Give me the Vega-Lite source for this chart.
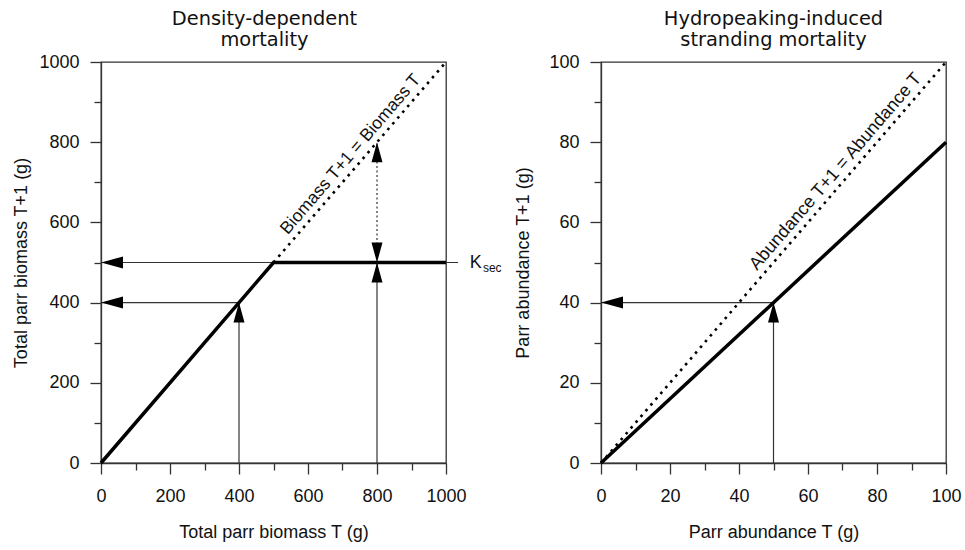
{
  "$schema": "https://vega.github.io/schema/vega-lite/v6.json",
  "background": "white",
  "padding": {"left": 12, "top": 7, "right": 5, "bottom": 5},
  "spacing": 11,
  "config": {
    "view": {"stroke": "#333", "strokeWidth": 1.3},
    "axis": {
      "labelFont": "Liberation Sans", "labelFontSize": 18, "labelColor": "#111",
      "titleFont": "Liberation Sans", "titleFontSize": 18, "titleFontWeight": "normal", "titleColor": "#111",
      "domainColor": "#333", "tickColor": "#333", "domainWidth": 1.3, "tickWidth": 1.3,
      "grid": false, "labelFlush": false, "labelOverlap": false, "format": "d"
    },
    "title": {"font": "DejaVu Sans", "fontSize": 19.4, "fontWeight": "normal", "color": "#111", "lineHeight": 21, "offset": 3}
  },
  "datasets": {
    "thinL": [
      {"x": 0, "y": 500, "x2": 1035, "y2": 500},
      {"x": 0, "y": 400, "x2": 400, "y2": 400},
      {"x": 400, "y": 0, "x2": 400, "y2": 400},
      {"x": 800, "y": 0, "x2": 800, "y2": 500}
    ],
    "dotV": [{"x": 800, "y": 500, "x2": 800, "y2": 800}],
    "diagL": [{"x": 500, "y": 500}, {"x": 1000, "y": 1000}],
    "curveL": [{"x": 0, "y": 0}, {"x": 500, "y": 500}, {"x": 1000, "y": 500}],
    "arrowsL": [
      {"x": 0, "y": 500, "dir": "left"},
      {"x": 0, "y": 400, "dir": "left"},
      {"x": 400, "y": 400, "dir": "up"},
      {"x": 800, "y": 500, "dir": "up"},
      {"x": 800, "y": 500, "dir": "down"},
      {"x": 800, "y": 800, "dir": "up"}
    ],
    "labelL": [{"x": 750, "y": 750, "text": "Biomass T+1 = Biomass T"}],
    "kL": [{"x": 1069, "y": 500, "text": "K"}],
    "secL": [{"x": 1107, "y": 500, "text": "sec"}],
    "thinR": [
      {"x": 0, "y": 40, "x2": 50, "y2": 40},
      {"x": 50, "y": 0, "x2": 50, "y2": 40}
    ],
    "diagR": [{"x": 0, "y": 0}, {"x": 100, "y": 100}],
    "curveR": [{"x": 0, "y": 0}, {"x": 100, "y": 80}],
    "arrowsR": [
      {"x": 0, "y": 40, "dir": "left"},
      {"x": 50, "y": 40, "dir": "up"}
    ],
    "labelR": [{"x": 70.7, "y": 70.7, "text": "Abundance T+1 = Abundance T"}]
  },
  "hconcat": [
    {
      "width": 345, "height": 401,
      "title": {"text": ["Density-dependent", "mortality"], "dx": -9},
      "encoding": {
        "x": {"field": "x", "type": "quantitative", "title": "Total parr biomass T (g)",
          "scale": {"domain": [0, 1000], "nice": false, "zero": false},
          "axis": {"values": [0,100,200,300,400,500,600,700,800,900,1000],
            "labelExpr": "datum.value % 200 === 0 ? datum.label : ''",
            "tickSize": {"condition": {"test": "datum.value % 200 !== 0", "value": 7}, "value": 11},
            "labelPadding": 13, "titlePadding": 18}},
        "y": {"field": "y", "type": "quantitative", "title": "Total parr biomass T+1 (g)",
          "scale": {"domain": [0, 1000], "nice": false, "zero": false},
          "axis": {"values": [0,100,200,300,400,500,600,700,800,900,1000],
            "labelExpr": "datum.value % 200 === 0 ? datum.label : ''",
            "tickSize": {"condition": {"test": "datum.value % 200 !== 0", "value": 7}, "value": 11},
            "labelPadding": 11, "titlePadding": 8}}
      },
      "layer": [
        {"data": {"name": "thinL"}, "mark": {"type": "rule", "color": "#333", "strokeWidth": 1.2},
          "encoding": {"x2": {"field": "x2"}, "y2": {"field": "y2"}}},
        {"data": {"name": "dotV"}, "mark": {"type": "rule", "color": "#333", "strokeWidth": 1.2, "strokeDash": [2, 2.5]},
          "encoding": {"x2": {"field": "x2"}, "y2": {"field": "y2"}}},
        {"data": {"name": "diagL"}, "mark": {"type": "line", "color": "black", "strokeWidth": 2.6, "strokeDash": [2.6, 5]},
          "encoding": {}},
        {"data": {"name": "curveL"}, "mark": {"type": "line", "color": "black", "strokeWidth": 3.5},
          "encoding": {}},
        {"data": {"name": "arrowsL"}, "mark": {"type": "point", "filled": true, "color": "black", "opacity": 1, "size": 100, "strokeWidth": 0},
          "encoding": {"shape": {"field": "dir", "type": "nominal", "legend": null,
            "scale": {"domain": ["left", "up", "down"], "range": ["M0,0L4.4,-1.2L4.4,1.2Z", "M0,0L-1.1,4L1.1,4Z", "M0,0L-1.1,-4L1.1,-4Z"]}}}},
        {"data": {"name": "labelL"}, "mark": {"type": "text", "font": "Liberation Sans", "fontSize": 17.5, "color": "#111", "angle": -49.3, "align": "center", "baseline": "middle", "dy": -12},
          "encoding": {"text": {"field": "text"}}},
        {"data": {"name": "kL"}, "mark": {"type": "text", "font": "Liberation Sans", "fontSize": 18, "color": "#111", "align": "left", "baseline": "middle", "clip": false},
          "encoding": {"text": {"field": "text"}}},
        {"data": {"name": "secL"}, "mark": {"type": "text", "font": "Liberation Sans", "fontSize": 12, "color": "#111", "align": "left", "baseline": "middle", "dy": 5, "clip": false},
          "encoding": {"text": {"field": "text"}}}
      ]
    },
    {
      "width": 345, "height": 401,
      "title": {"text": ["Hydropeaking-induced", "stranding mortality"]},
      "encoding": {
        "x": {"field": "x", "type": "quantitative", "title": "Parr abundance T (g)",
          "scale": {"domain": [0, 100], "nice": false, "zero": false},
          "axis": {"values": [0,10,20,30,40,50,60,70,80,90,100],
            "labelExpr": "datum.value % 20 === 0 ? datum.label : ''",
            "tickSize": {"condition": {"test": "datum.value % 20 !== 0", "value": 7}, "value": 11},
            "labelPadding": 13, "titlePadding": 18}},
        "y": {"field": "y", "type": "quantitative", "title": "Parr abundance T+1 (g)",
          "scale": {"domain": [0, 100], "nice": false, "zero": false},
          "axis": {"values": [0,10,20,30,40,50,60,70,80,90,100],
            "labelExpr": "datum.value % 20 === 0 ? datum.label : ''",
            "tickSize": {"condition": {"test": "datum.value % 20 !== 0", "value": 7}, "value": 11},
            "labelPadding": 11, "titlePadding": 16}}
      },
      "layer": [
        {"data": {"name": "thinR"}, "mark": {"type": "rule", "color": "#333", "strokeWidth": 1.2},
          "encoding": {"x2": {"field": "x2"}, "y2": {"field": "y2"}}},
        {"data": {"name": "diagR"}, "mark": {"type": "line", "color": "black", "strokeWidth": 2.6, "strokeDash": [2.6, 5]},
          "encoding": {}},
        {"data": {"name": "curveR"}, "mark": {"type": "line", "color": "black", "strokeWidth": 3.5},
          "encoding": {}},
        {"data": {"name": "arrowsR"}, "mark": {"type": "point", "filled": true, "color": "black", "opacity": 1, "size": 100, "strokeWidth": 0},
          "encoding": {"shape": {"field": "dir", "type": "nominal", "legend": null,
            "scale": {"domain": ["left", "up", "down"], "range": ["M0,0L4.4,-1.2L4.4,1.2Z", "M0,0L-1.1,4L1.1,4Z", "M0,0L-1.1,-4L1.1,-4Z"]}}}},
        {"data": {"name": "labelR"}, "mark": {"type": "text", "font": "Liberation Sans", "fontSize": 18, "color": "#111", "angle": -49.3, "align": "center", "baseline": "middle", "dy": -12},
          "encoding": {"text": {"field": "text"}}}
      ]
    }
  ]
}
